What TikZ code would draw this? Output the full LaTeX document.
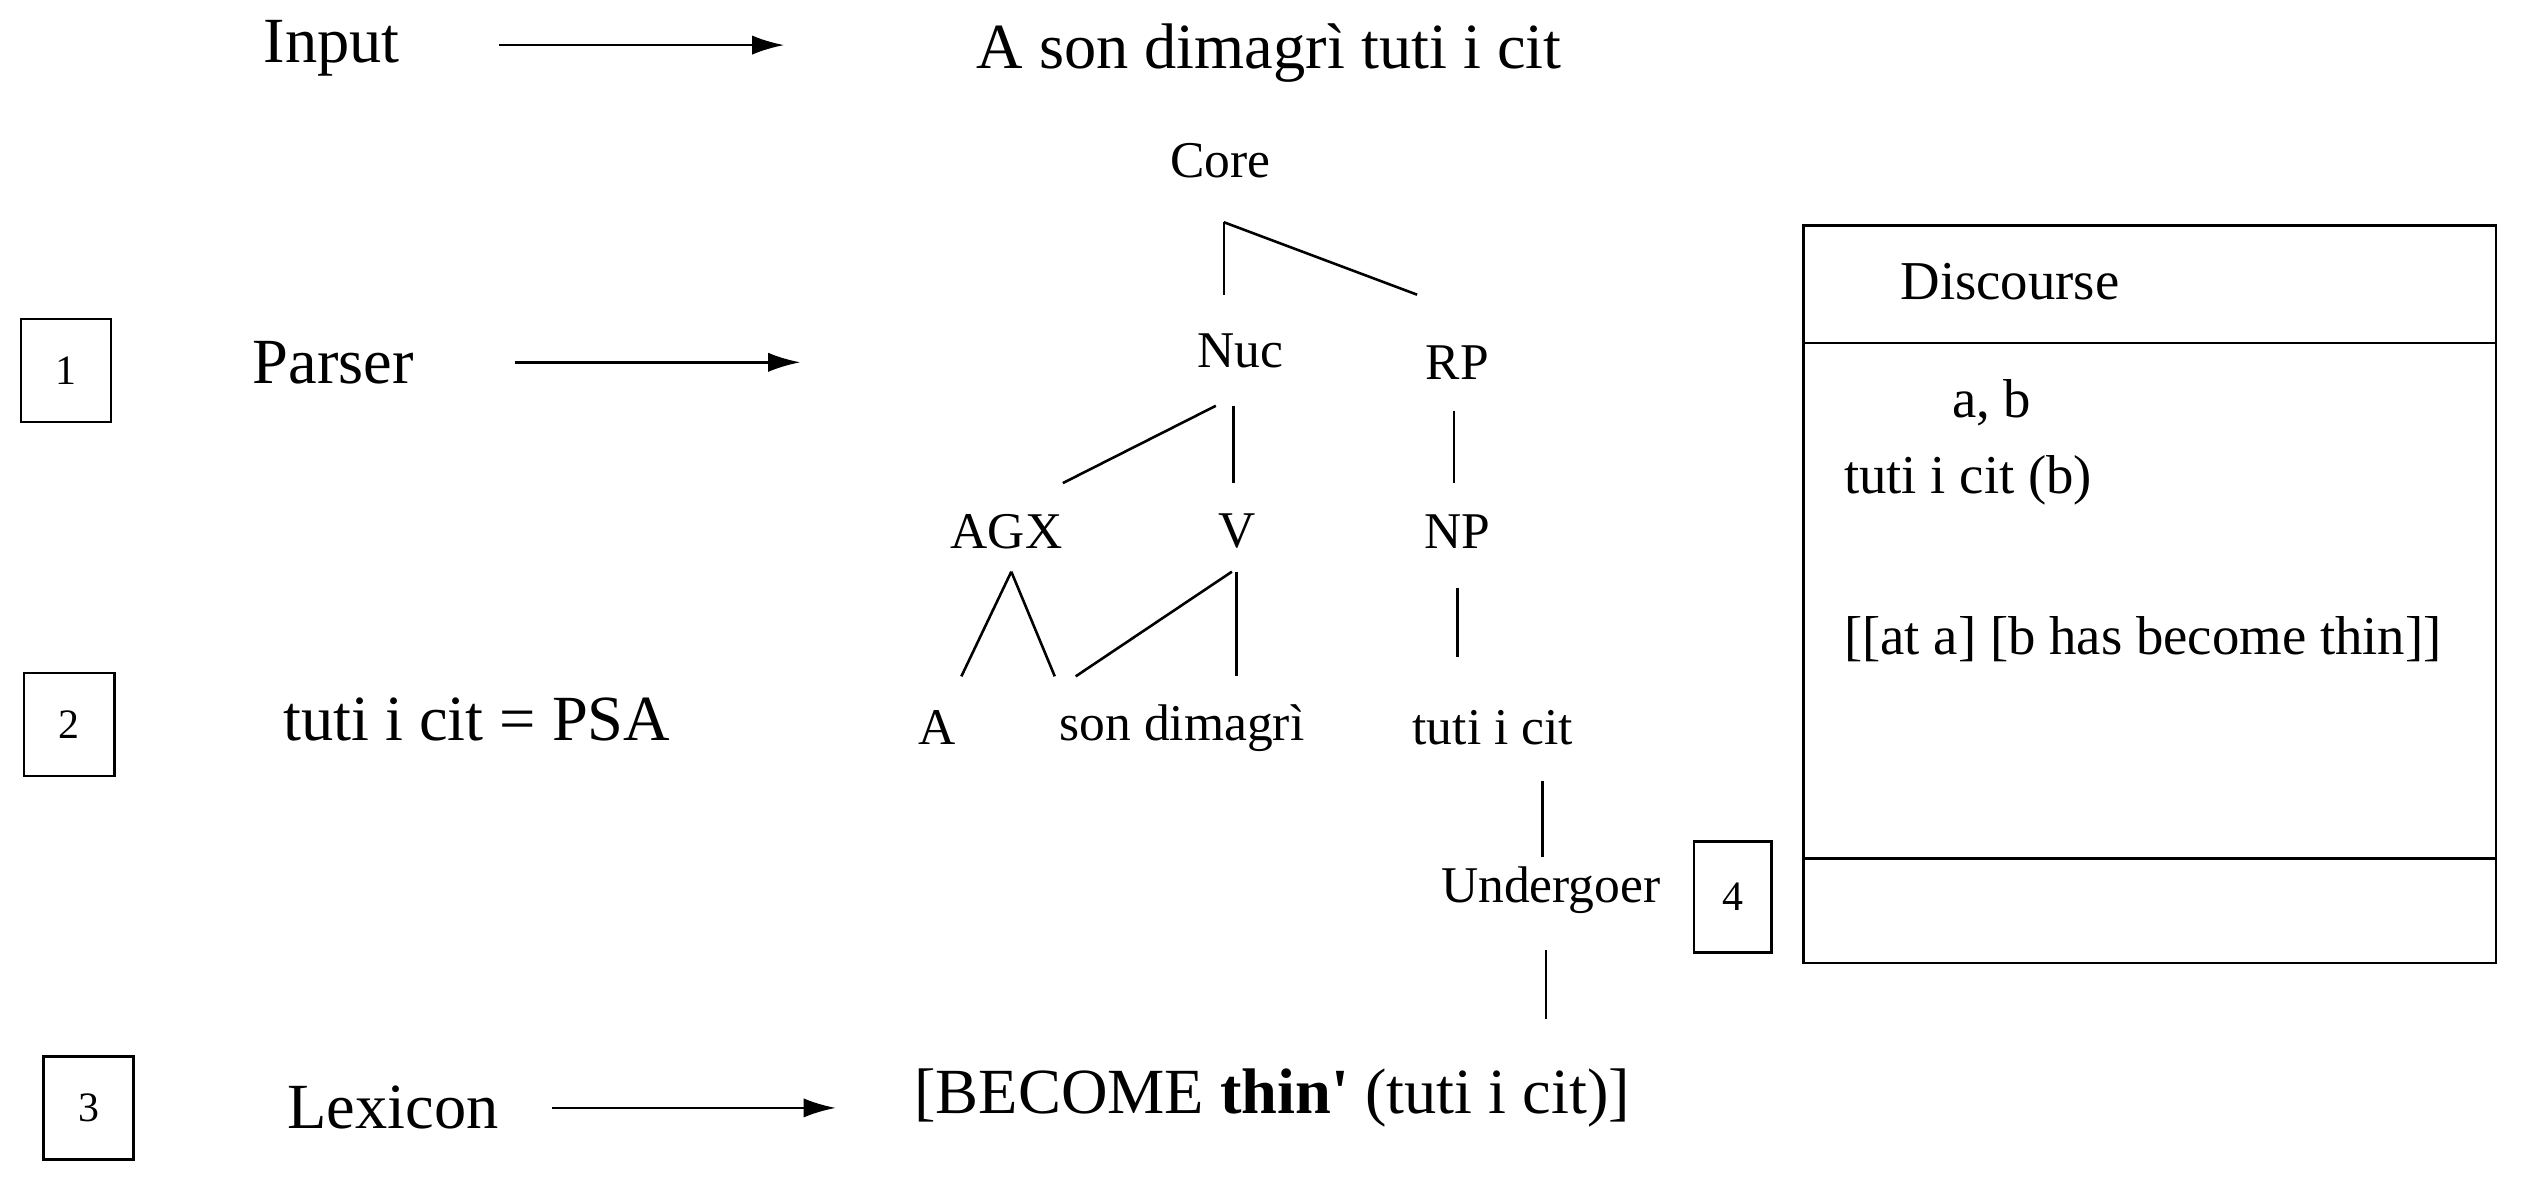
\documentclass[tikz,border=0pt]{standalone}
\usepackage{fontspec}
\setmainfont{Liberation Serif}
\newfontfamily\plainserif[Ligatures=NoCommon]{Liberation Serif}
\usetikzlibrary{arrows.meta}
\begin{document}
\begin{tikzpicture}[x=1pt,y=-1pt,
  big/.style={font=\fontsize{40}{46}\selectfont,inner sep=0},
  tree/.style={font=\fontsize{32}{36}\selectfont,inner sep=0},
  disc/.style={font=\fontsize{34}{40}\selectfont,inner sep=0,anchor=west},
  numbox/.style={draw,line width=1.6pt,minimum width=56pt,minimum height=64pt,font=\fontsize{26}{30}\selectfont},
  arr/.style={-{Latex[length=20pt,width=12pt]},line width=1.6pt},
  ln/.style={line width=1.6pt}]
\useasboundingbox (0,0) rectangle (1568,743);
% left column
\node[big] (input) at (206,30) {Input};
\coordinate (ia) at (310,28); \coordinate (ib) at (487,28);
\draw[arr] (ia) -- (ib);
\node[big] (sent) at (788,33) {A son dimagrì tuti i cit};
\node[numbox] (b1) at (41,230) {1};
\node[big] (parser) at (207,225) {Parser};
\coordinate (pa) at (320,225); \coordinate (pb) at (497,225);
\draw[arr] (pa) -- (pb);
\node[numbox] (b2) at (43,450) {2};
\node[big] (psa) at (296,447) {tuti i cit = PSA};
\node[numbox] (b3) at (55,688) {3};
\node[big] (lex) at (244,688) {Lexicon};
\coordinate (la) at (343,688); \coordinate (lb) at (519,688);
\draw[arr] (la) -- (lb);
\node[big] (lexres) at (790,682) {[BECOME \textbf{thin\textquotesingle} (tuti i cit)]};
% tree
\node[tree] (core) at (758,100) {Core};
\node[tree] (nuc) at (770,218) {Nuc};
\node[tree] (rp) at (905,225) {RP};
\node[tree] (agx) at (625,330) {AGX};
\node[tree] (v) at (768,330) {V};
\node[tree] (np) at (905,330) {NP};
\node[tree] (a) at (582,452) {A};
\node[tree] (son) at (734,452) {son dimagrì};
\node[tree] (tuti) at (927,452) {tuti i cit};
\node[tree] (und) at (963,553) {Undergoer};
\coordinate (c0) at (760,138);
\draw[ln] (c0) -- (760,183);
\draw[ln] (c0) -- (880,183);
\draw[ln] (755,252) -- (660,300);
\draw[ln] (766,252) -- (766,300);
\draw[ln] (903,255) -- (903,300);
\draw[ln] (628,355) -- (597,420);
\draw[ln] (628,355) -- (655,420);
\draw[ln] (765,355) -- (668,420);
\draw[ln] (768,355) -- (768,420);
\draw[ln] (905,365) -- (905,408);
\draw[ln] (958,485) -- (958,532);
\draw[ln] (960,590) -- (960,633);
\node[numbox,minimum width=48pt,minimum height=69pt] (b4) at (1076,557) {4};
% discourse box
\draw[ln] (1120,140) rectangle (1550,598);
\draw[ln] (1120,213) -- (1550,213);
\draw[ln] (1120,533) -- (1550,533);
\node[disc] (dh) at (1180,175) {Discourse};
\node[disc] (ab) at (1212,250) {a, b};
\node[disc] (tc) at (1145,298) {tuti i cit (b)};
\node[disc] (th) at (1145,397) {[[at a] [b has become thin]]};
\end{tikzpicture}
\end{document}
